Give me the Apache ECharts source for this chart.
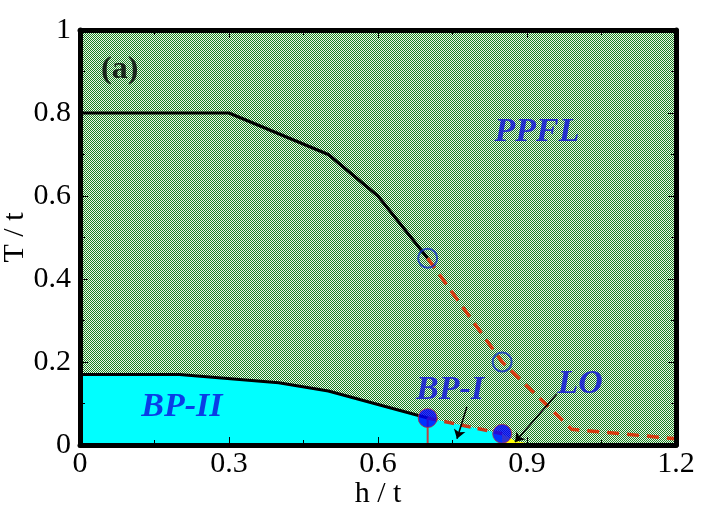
<!DOCTYPE html>
<html style="height: 100%">
<head>
    <meta charset="utf-8">
</head>
<body style="height: 100%; margin: 0; background: #fff">
<div id="container" style="width: 710px; height: 524px"></div>
<script type="text/javascript" src="https://cdn.jsdelivr.net/npm/echarts@6/dist/echarts.min.js"></script>
<script type="text/javascript">
    // phase boundaries (h/t, T/t)
    var upperLine = [[0, 0.8], [0.3, 0.8], [0.5, 0.7], [0.6, 0.6], [0.7, 0.45]];
    var dashedUpper = [[0.7, 0.45], [0.85, 0.2], [0.99, 0.038], [1.1, 0.026], [1.2, 0.015]];
    var bp2Line = [[0, 0.17], [0.2, 0.17], [0.4, 0.15], [0.5, 0.13], [0.7, 0.065]];
    var bp1Line = [[0.7, 0.065], [0.85, 0.027]];
    var verticalLine = [[0.7, 0.065], [0.7, 0]];
    var openPoints = [[0.7, 0.45], [0.85, 0.2]];
    var filledPoints = [[0.7, 0.065], [0.85, 0.027]];

    // filled regions
    var fullRegion = [[0, 0], [1.2, 0], [1.2, 1], [0, 1]];
    var cyanRegion = [[0, 0.17], [0.2, 0.17], [0.4, 0.15], [0.5, 0.13], [0.7, 0.065], [0.85, 0.027], [0.85, 0], [0, 0]];
    var yellowRegion = [[0.85, 0.027], [0.875, 0.01], [0.9, 0.004], [1.0, 0.002], [1.0, 0], [0.85, 0]];

    // annotations
    var labelItems = [
        {value: [0.08, 0.905, '(a)'], style: 'black'},
        {value: [0.92, 0.754, 'PPFL'], style: 'blue'},
        {value: [0.205, 0.092, 'BP-II'], style: 'blue'},
        {value: [0.745, 0.131, 'BP-I'], style: 'blue'},
        {value: [1.007, 0.147, 'LO'], style: 'blue'}
    ];
    var arrows = [
        [[0.779, 0.092], [0.759, 0.015]],
        [[0.96, 0.123], [0.876, 0.007]]
    ];

    // fine checkerboard hatch for the PPFL background
    var pc = document.createElement('canvas');
    pc.width = 2; pc.height = 2;
    var pctx = pc.getContext('2d');
    pctx.fillStyle = '#eef8ea';
    pctx.fillRect(0, 0, 2, 2);
    pctx.fillStyle = '#1a7f25';
    pctx.fillRect(0, 0, 1, 1);
    pctx.fillRect(1, 1, 1, 1);
    var hatch = {image: pc, repeat: 'repeat'};

    function polygonSeries(points, fill, z) {
        return {
            type: 'custom',
            z: z,
            silent: true,
            data: [0],
            renderItem: function (params, api) {
                return {
                    type: 'polygon',
                    shape: {points: points.map(function (p) { return api.coord(p); })},
                    style: {fill: fill}
                };
            }
        };
    }

    var serif = "'Liberation Serif', 'DejaVu Serif', 'Times New Roman', serif";
    var tickFont = {fontFamily: serif, fontSize: 30, color: '#000'};

    var dom = document.getElementById("container");
    var myChart = echarts.init(dom, null, {devicePixelRatio: 1});
    var option = {
        animation: false,
        grid: {left: 80, right: 34, top: 30, bottom: 79, containLabel: false, outerBoundsMode: 'none'},
        xAxis: [{
            type: 'value', min: 0, max: 1.2, interval: 0.3, z: 10,
            name: 'h / t', nameLocation: 'middle', nameGap: 34, nameMoveOverlap: false,
            nameTextStyle: {fontFamily: serif, fontSize: 30, color: '#000'},
            axisLine: {show: true, onZero: false, lineStyle: {color: '#000', width: 5}},
            axisTick: {inside: true, length: 8, lineStyle: {color: '#000', width: 1}},
            minorTick: {show: true, splitNumber: 2, length: 5, lineStyle: {color: '#000', width: 1}},
            axisLabel: Object.assign({margin: 4}, tickFont),
            splitLine: {show: false}
        }, {
            type: 'value', position: 'top', min: 0, max: 1.2, interval: 0.3, z: 10,
            axisLine: {show: true, onZero: false, lineStyle: {color: '#000', width: 5}},
            axisTick: {inside: true, length: 8, lineStyle: {color: '#000', width: 1}},
            minorTick: {show: true, splitNumber: 2, length: 5, lineStyle: {color: '#000', width: 1}},
            axisLabel: {show: false},
            splitLine: {show: false}
        }],
        yAxis: [{
            type: 'value', min: 0, max: 1, interval: 0.2, z: 10,
            name: 'T / t', nameLocation: 'middle', nameGap: 50, nameMoveOverlap: false,
            nameTextStyle: {fontFamily: serif, fontSize: 30, color: '#000'},
            axisLine: {show: true, onZero: false, lineStyle: {color: '#000', width: 5}},
            axisTick: {inside: true, length: 8, lineStyle: {color: '#000', width: 1}},
            minorTick: {show: true, splitNumber: 2, length: 5, lineStyle: {color: '#000', width: 1}},
            axisLabel: Object.assign({margin: 9}, tickFont),
            splitLine: {show: false}
        }, {
            type: 'value', position: 'right', min: 0, max: 1, interval: 0.2, z: 10,
            axisLine: {show: true, onZero: false, lineStyle: {color: '#000', width: 5}},
            axisTick: {inside: true, length: 8, lineStyle: {color: '#000', width: 1}},
            minorTick: {show: true, splitNumber: 2, length: 5, lineStyle: {color: '#000', width: 1}},
            axisLabel: {show: false},
            splitLine: {show: false}
        }],
        series: [
            polygonSeries(fullRegion, hatch, 1),
            polygonSeries(cyanRegion, '#00ffff', 2),
            polygonSeries(yellowRegion, '#ffff00', 2),
            {
                type: 'line', data: upperLine, z: 4, symbol: 'none',
                lineStyle: {color: '#000', width: 3}
            },
            {
                type: 'line', data: bp2Line, z: 4, symbol: 'none',
                lineStyle: {color: '#000', width: 3}
            },
            {
                type: 'line', data: dashedUpper, z: 4, symbol: 'none',
                lineStyle: {color: '#d83a10', width: 3.5, type: [12, 8]}
            },
            {
                type: 'line', data: bp1Line, z: 4, symbol: 'none',
                lineStyle: {color: '#c83a1a', width: 3.5, type: [10, 7]}
            },
            {
                type: 'line', data: verticalLine, z: 4, symbol: 'none',
                lineStyle: {color: '#c04040', width: 2}
            },
            {
                type: 'scatter', data: openPoints, z: 5, symbol: 'circle', symbolSize: 19,
                itemStyle: {color: 'rgba(0,0,0,0)', borderColor: '#1030c8', borderWidth: 2}
            },
            {
                type: 'scatter', data: filledPoints, z: 5, symbol: 'circle', symbolSize: 19,
                itemStyle: {color: '#0000ff', borderColor: '#b03040', borderWidth: 1}
            },
            {
                type: 'lines', coordinateSystem: 'cartesian2d', z: 6,
                data: arrows.map(function (a) { return {coords: a}; }),
                symbol: ['none', 'arrow'], symbolSize: 9,
                lineStyle: {color: '#000', width: 1.5, opacity: 1}
            },
            {
                type: 'scatter', z: 7, symbolSize: 0, silent: true,
                data: labelItems.map(function (d) {
                    var blue = d.style === 'blue';
                    return {
                        value: d.value,
                        label: {
                            show: true, position: 'inside',
                            formatter: function (p) { return p.value[2]; },
                            fontFamily: serif, fontWeight: 'bold',
                            fontStyle: blue ? 'italic' : 'normal',
                            fontSize: blue ? 34 : 32,
                            color: blue ? '#0c0ce0' : '#000'
                        }
                    };
                })
            }
        ]
    };

    if (option && typeof option === "object") {
        myChart.setOption(option, true);
    }
</script>
</body>
</html>
